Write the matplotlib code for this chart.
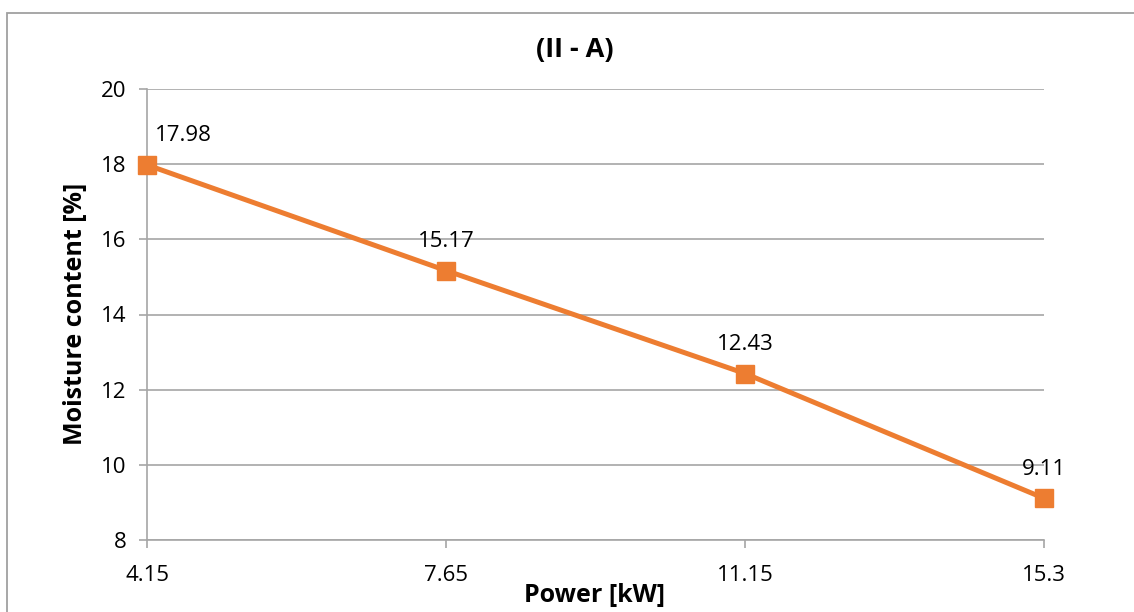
import matplotlib.pyplot as plt
from matplotlib.patches import Rectangle

# Dados
power_labels = ['4.15', '7.65', '11.15', '15.3']
moisture = [17.98, 15.17, 12.43, 9.11]
y_ticks = [8, 10, 12, 14, 16, 18, 20]

plt.rcParams['font.family'] = ['Open Sans', 'DejaVu Sans']

W, H = 1134, 612
fig = plt.figure(figsize=(W / 100, H / 100), dpi=100)
ax = fig.add_axes([147 / W, 1 - 540 / H, (1044 - 147) / W, (540 - 89) / H])

grid_color = '#A6A6A6'
orange = '#ED7D31'

# Borda da área do gráfico
fig.patches.append(Rectangle((7 / W, -0.1), 1.2, 1 - 13 / H + 0.1, transform=fig.transFigure,
                             fill=False, edgecolor='#A0A0A0', linewidth=1.3))

x = list(range(len(power_labels)))
ax.plot(x, moisture, color=orange, linewidth=3.6, marker='s', markersize=13,
        zorder=3, clip_on=False)

# Rótulos de dados
for i, v in enumerate(moisture):
    if i == 0:
        ax.annotate(f'{v:.2f}', (i, v), xytext=(6, 21), textcoords='offset points',
                    ha='left', va='center', fontsize=16)
    else:
        ax.annotate(f'{v:.2f}', (i, v), xytext=(0, 21), textcoords='offset points',
                    ha='center', va='center', fontsize=16)

ax.set_xlim(0, len(power_labels) - 1)
ax.set_ylim(8, 20)
ax.set_yticks(y_ticks)
ax.set_xticks(x)
ax.set_xticklabels(power_labels)
ax.tick_params(axis='both', labelsize=16, length=6, width=1.2, color=grid_color, direction='out')
ax.tick_params(axis='x', pad=12)
ax.tick_params(axis='y', pad=9)

ax.grid(axis='y', color=grid_color, linewidth=1.2)
ax.set_axisbelow(True)
for side in ['top', 'right']:
    ax.spines[side].set_visible(False)
for side in ['left', 'bottom']:
    ax.spines[side].set_color(grid_color)
    ax.spines[side].set_linewidth(1.2)

# Títulos
fig.text(575 / W, 1 - 50 / H, '(II - A)', ha='center', va='center', fontsize=19.5, fontweight='bold')
fig.text(595 / W, 1 - 595 / H, 'Power [kW]', ha='center', va='center', fontsize=18, fontweight='bold')
fig.text(75 / W, 1 - 314 / H, 'Moisture content [%]', ha='center', va='center', rotation=90,
         fontsize=18, fontweight='bold')

plt.savefig('out.png', dpi=100)
plt.close()
